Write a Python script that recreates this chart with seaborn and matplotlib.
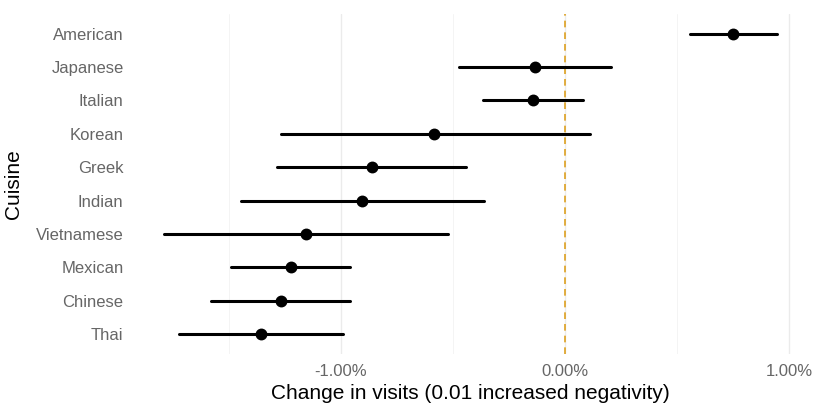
import matplotlib
matplotlib.use("Agg")
import matplotlib.pyplot as plt
from matplotlib.ticker import FuncFormatter, MultipleLocator
import seaborn as sns
import pandas as pd

# estimates and interval ends, in percent
cuisines = ['American', 'Japanese', 'Italian', 'Korean', 'Greek',
            'Indian', 'Vietnamese', 'Mexican', 'Chinese', 'Thai']
estimate = [0.751, -0.135, -0.143, -0.586, -0.863, -0.905, -1.158, -1.225, -1.269, -1.357]
lower = [0.558, -0.473, -0.365, -1.268, -1.287, -1.446, -1.790, -1.491, -1.582, -1.723]
upper = [0.949, 0.205, 0.080, 0.112, -0.443, -0.362, -0.521, -0.960, -0.960, -0.990]

# long table: median = estimate, 100% interval = lower..upper
rows = []
for c, lo, est, hi in zip(cuisines, lower, estimate, upper):
    for v in (lo, est, hi):
        rows.append({'Cuisine': c, 'change': v})
df = pd.DataFrame(rows)

sns.set_theme(style='whitegrid')
plt.rcParams['font.family'] = ['Liberation Sans', 'DejaVu Sans']

fig, ax = plt.subplots(figsize=(8.13, 4.05), dpi=100)
fig.subplots_adjust(left=0.164, right=0.994, top=0.966, bottom=0.126)

ax.axvline(0, color='#DDA020', linestyle=(0, (4, 3)), linewidth=1.2, zorder=1)

sns.pointplot(data=df, x='change', y='Cuisine', order=cuisines,
              estimator='median', errorbar=('pi', 100),
              linestyle='none', color='black', markersize=6.5,
              err_kws={'linewidth': 2.2}, ax=ax, zorder=3)

ax.set_xlim(-1.927, 1.086)
ax.set_ylim(len(cuisines) - 0.4, -0.6)
ax.xaxis.set_major_locator(MultipleLocator(1.0))
ax.xaxis.set_minor_locator(MultipleLocator(0.5))
ax.xaxis.set_major_formatter(FuncFormatter(lambda v, p: '%.2f%%' % v))

ax.grid(axis='y', visible=False)
ax.grid(axis='x', which='major', color='#ebebeb', linewidth=1.0)
ax.grid(axis='x', which='minor', color='#f2f2f2', linewidth=0.6)
for s in ax.spines.values():
    s.set_visible(False)

ax.tick_params(axis='both', length=0, labelsize=12, colors='#666666')
ax.tick_params(axis='y', pad=7)
ax.tick_params(axis='x', pad=7)
ax.set_xlabel('Change in visits (0.01 increased negativity)', fontsize=15, color='black', labelpad=4)
ax.set_ylabel('Cuisine', fontsize=15, color='black')
ax.yaxis.set_label_coords(-0.164, 0.5)

fig.savefig('out.png', dpi=100)
